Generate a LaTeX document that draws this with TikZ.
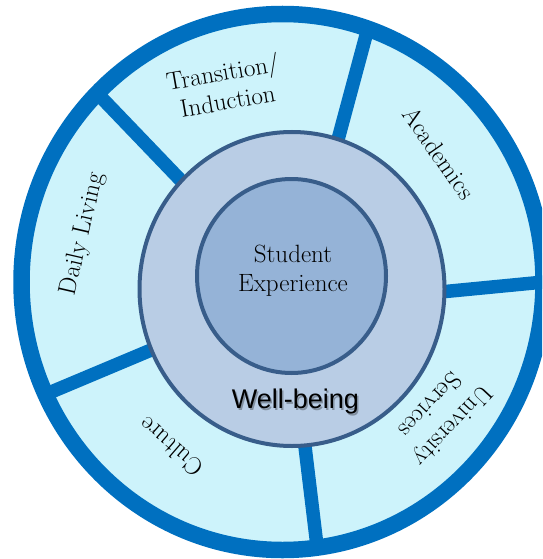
\documentclass[tikz,border=0pt]{standalone}
\usepackage{fontspec}
\newfontfamily\wellfont{Liberation Sans}
\definecolor{ringblue}{RGB}{0,112,192}
\definecolor{segcyan}{RGB}{205,243,251}
\definecolor{wellfill}{RGB}{185,205,229}
\definecolor{corefill}{RGB}{149,179,215}
\definecolor{hubline}{RGB}{56,93,138}
\tikzset{
  spoke/.style={ringblue, line width=13.5pt},
  hub/.style={hubline, line width=4pt},
  seglabel/.style={font=\fontsize{25}{29}\selectfont, align=center, inner sep=0pt},
  welltext/.style={font=\wellfont\fontsize{27}{30}\selectfont, inner sep=0pt},
}
\begin{document}
\begin{tikzpicture}[x=1pt, y=-1pt]
\useasboundingbox (0,0) rectangle (542,559);
\clip (0,0) rectangle (542,559);
\coordinate (O) at (282.5,282);
\coordinate (W) at (292,289);
\coordinate (S) at (291.5,276);
\fill[segcyan] (O) ellipse [x radius=261, y radius=268];
\coordinate (in1) at (190,190); \coordinate (out1) at (96,92);
\coordinate (in2) at (336,147); \coordinate (out2) at (368,28);
\coordinate (in3) at (430,293); \coordinate (out3) at (544,282);
\coordinate (in4) at (303,430); \coordinate (out4) at (317.5,550);
\coordinate (in5) at (163,345); \coordinate (out5) at (44,395);
\foreach \i in {1,...,5}
  \draw[spoke] (in\i) -- (out\i);
\draw[hub, fill=wellfill] (W) ellipse [x radius=152.5, y radius=157];
\draw[hub, fill=corefill] (S) ellipse [x radius=94.5, y radius=97];
\draw[ringblue, line width=16.5pt] (O) ellipse [x radius=261, y radius=268];
\node[seglabel] (core) at (293,271) {Student\\Experience};
\node[welltext, black, opacity=0.3] (wbshadow) at (297,404) {Well-being};
\node[welltext] (wb) at (295.5,402) {Well-being};
\node[seglabel, rotate=10] (trans) at (225,86) {Transition/\\Induction};
\node[seglabel, rotate=-55] (acad) at (439,153) {Academics};
\node[seglabel, rotate=77] (daily) at (83,234) {Daily Living};
\node[seglabel, rotate=139] (cult) at (171,447) {Culture};
\node[seglabel, rotate=227, font=\fontsize{25}{31}\selectfont] (serv) at (442,416) {University\\Services};
\end{tikzpicture}
\end{document}
